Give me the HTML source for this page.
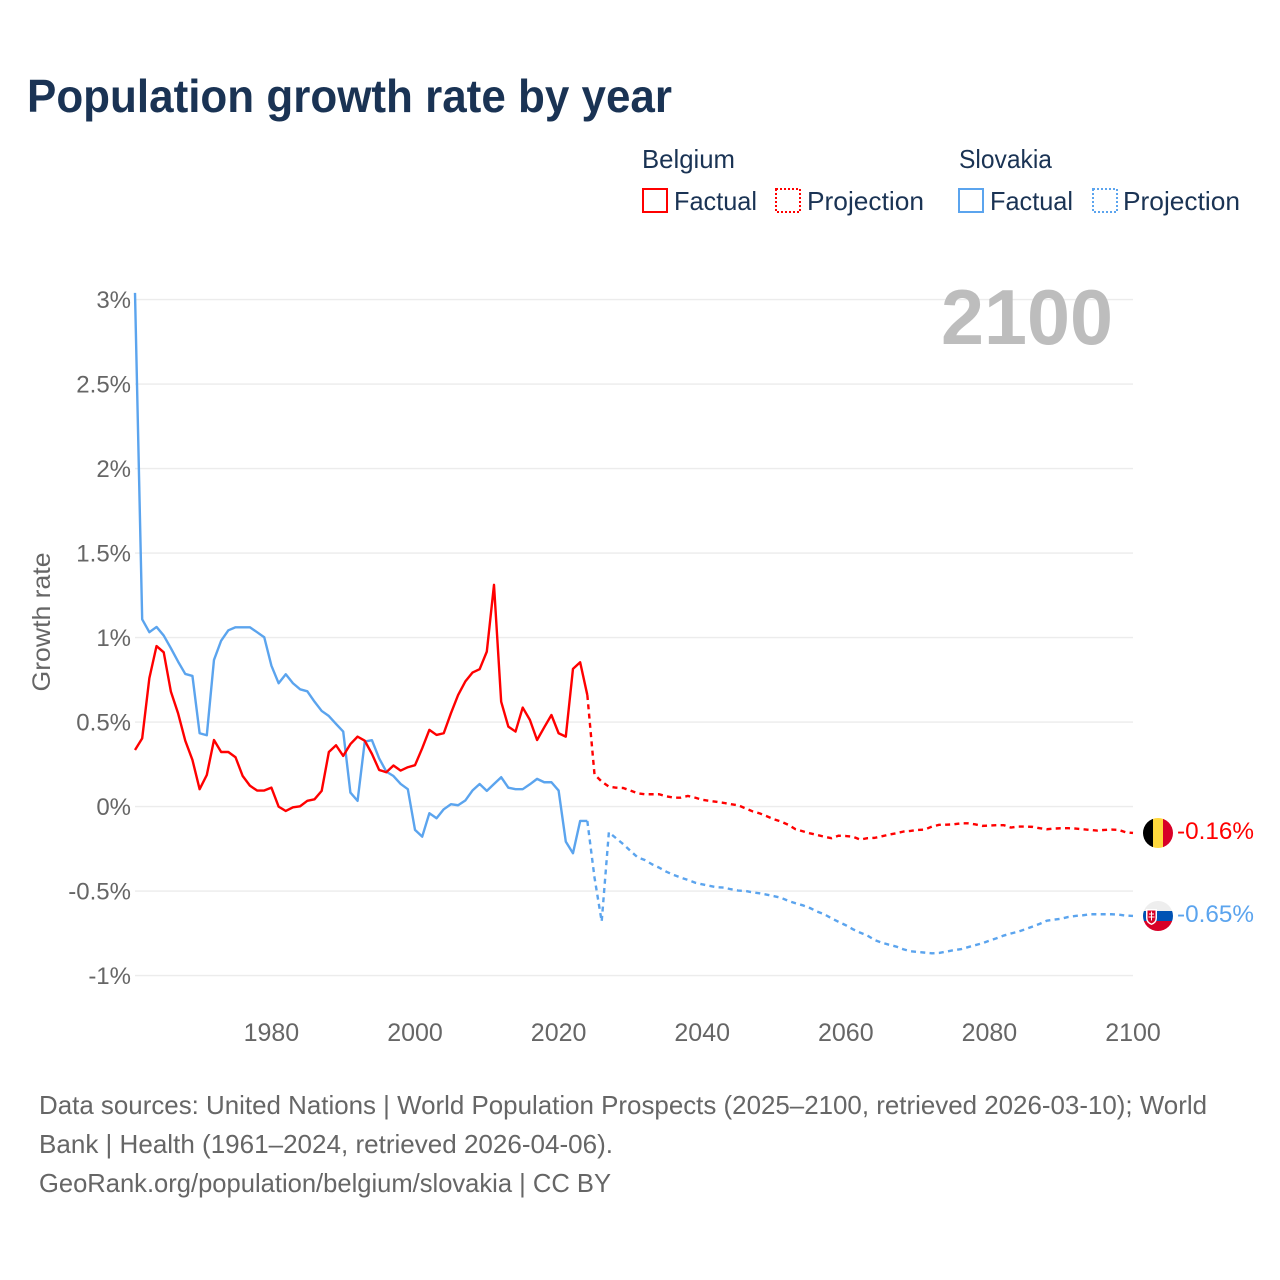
<!DOCTYPE html>
<html lang="en">
<head>
<meta charset="utf-8">
<title>Population growth rate by year</title>
<style>
html,body{margin:0;padding:0;background:#fff;}
svg{display:block;font-family:"Liberation Sans",sans-serif;}
</style>
</head>
<body>
<svg id="chart" width="1280" height="1280" viewBox="0 0 1280 1280" xmlns="http://www.w3.org/2000/svg">
  <defs>
    <clipPath id="flag-clip-be"><circle cx="1158" cy="833" r="15"/></clipPath>
    <clipPath id="flag-clip-sk"><circle cx="1158" cy="916" r="15"/></clipPath>
  </defs>
  <rect x="0" y="0" width="1280" height="1280" fill="#fff"/>
  <text x="27" y="112" font-size="46" font-weight="700" fill="#1a3354" textLength="645" lengthAdjust="spacingAndGlyphs">Population growth rate by year</text>

  <g font-size="26" fill="#1a3354">
    <text x="642" y="168" textLength="93" lengthAdjust="spacingAndGlyphs">Belgium</text>
    <rect x="643" y="189" width="24" height="23" fill="none" stroke="#ff0000" stroke-width="2"/>
    <text x="674" y="210" textLength="83" lengthAdjust="spacingAndGlyphs">Factual</text>
    <rect x="776" y="189" width="24" height="23" fill="none" stroke="#ff0000" stroke-width="2" stroke-dasharray="2 2"/>
    <text x="807" y="210" textLength="117" lengthAdjust="spacingAndGlyphs">Projection</text>
    <text x="959" y="168" textLength="93" lengthAdjust="spacingAndGlyphs">Slovakia</text>
    <rect x="959" y="189" width="24" height="23" fill="none" stroke="#5ba4ee" stroke-width="2"/>
    <text x="990" y="210" textLength="83" lengthAdjust="spacingAndGlyphs">Factual</text>
    <rect x="1093" y="189" width="24" height="23" fill="none" stroke="#5ba4ee" stroke-width="2" stroke-dasharray="2 2"/>
    <text x="1123" y="210" textLength="117" lengthAdjust="spacingAndGlyphs">Projection</text>
  </g>

  <g id="grid"></g>
  <g id="y-ticks"></g>
  <g id="x-ticks"></g>
  <text transform="translate(50,622) rotate(-90)" text-anchor="middle" font-size="25" fill="#666" textLength="139" lengthAdjust="spacingAndGlyphs">Growth rate</text>
  <text x="1113" y="344" text-anchor="end" font-size="78" font-weight="700" fill="#bdbdbd" textLength="172" lengthAdjust="spacingAndGlyphs">2100</text>
  <g id="series"></g>

  <g clip-path="url(#flag-clip-be)">
    <rect x="1143" y="818" width="10" height="30" fill="#000"/>
    <rect x="1153" y="818" width="10" height="30" fill="#ffd83d"/>
    <rect x="1163" y="818" width="10" height="30" fill="#d80027"/>
  </g>
  <g clip-path="url(#flag-clip-sk)">
    <rect x="1143" y="901" width="30" height="10" fill="#eeeeee"/>
    <rect x="1143" y="911" width="30" height="10" fill="#0052b4"/>
    <rect x="1143" y="921" width="30" height="10" fill="#d80027"/>
    <path d="M1146 909h11v9q0 5-5.500 7q-5.500-2-5.500-7z" fill="#fff"/>
    <path d="M1147.500 910.500h8v7.500q0 4-4 5.500q-4-1.500-4-5.500z" fill="#d80027"/>
    <path d="M1151 911.500h1v2h2v1h-2v2h2.500v1h-2.500v3h-1v-3h-2.500v-1h2.500v-2h-2v-1h2z" fill="#fff"/>
  </g>
  <g id="end-labels"></g>

  <g font-size="26" fill="#666">
    <text x="39" y="1114" textLength="1168" lengthAdjust="spacingAndGlyphs">Data sources: United Nations | World Population Prospects (2025–2100, retrieved 2026-03-10); World</text>
    <text x="39" y="1153" textLength="574" lengthAdjust="spacingAndGlyphs">Bank | Health (1961–2024, retrieved 2026-04-06).</text>
    <text x="39" y="1192" textLength="572" lengthAdjust="spacingAndGlyphs">GeoRank.org/population/belgium/slovakia | CC BY</text>
  </g>
</svg>
<script>
const firstYear = 1961;
const lastYear = 2100;
const yTickValues = [3, 2.5, 2, 1.5, 1, 0.5, 0, -0.5, -1];
const yTickLabels = ["3%", "2.5%", "2%", "1.5%", "1%", "0.5%", "0%", "-0.5%", "-1%"];
const xTickValues = [1980, 2000, 2020, 2040, 2060, 2080, 2100];
const xTickLabels = ["1980", "2000", "2020", "2040", "2060", "2080", "2100"];

// Annual values from 1961 through 2024
const belgiumFactual = [
  .335,.404,.76,.95,.913,.68,.552,.39,.276,.103,.187,.394,.323,.323,.292,.181,
  .124,.095,.095,.112,0,-.026,-.004,.002,.034,.043,.093,.323,.363,.30,.37,.414,
  .39,.312,.217,.203,.243,.213,.233,.245,.345,.454,.424,.434,.552,.66,.74,.793,
  .813,.917,1.312,.621,.473,.444,.586,.513,.394,.469,.542,.434,.414,.815,.854,.66
];
const slovakiaFactual = [
  3.04,1.108,1.032,1.063,1.012,.937,.858,.785,.773,.434,.422,.868,.982,1.043,1.061,1.061,
  1.061,1.032,1.002,.834,.73,.783,.73,.694,.682,.621,.566,.536,.489,.444,.083,.034,
  .385,.393,.286,.207,.181,.134,.103,-.138,-.178,-.039,-.069,-.016,.014,.008,.036,.095,
  .134,.093,.134,.174,.112,.103,.103,.132,.164,.144,.144,.095,-.207,-.276,-.085,-.085
];
// Annual values from 2025 through 2100
const belgiumProjection = [
  .19,.148,.118,.112,.11,.095,
  .079,.073,.073,.073,.061,.053,.053,.063,.053,.04,
  .034,.028,.022,.014,.008,-.01,-.028,-.04,-.057,-.075,
  -.089,-.108,-.134,-.146,-.158,-.168,-.178,-.187,-.172,-.174,
  -.178,-.195,-.187,-.185,-.176,-.166,-.158,-.148,-.144,-.138,
  -.136,-.118,-.108,-.107,-.105,-.099,-.099,-.105,-.114,-.112,
  -.11,-.11,-.124,-.118,-.118,-.12,-.128,-.134,-.13,-.128,
  -.128,-.13,-.134,-.138,-.142,-.138,-.136,-.138,-.152,-.156
];
const slovakiaProjection = [
  -.42,-.68,-.152,-.187,-.222,-.262,
  -.30,-.316,-.341,-.361,-.385,-.404,-.42,-.434,-.45,-.46,
  -.469,-.477,-.479,-.489,-.497,-.499,-.507,-.513,-.521,-.53,
  -.54,-.558,-.572,-.584,-.60,-.621,-.637,-.661,-.682,-.702,
  -.726,-.746,-.763,-.789,-.805,-.817,-.828,-.844,-.856,-.86,
  -.864,-.868,-.866,-.858,-.85,-.844,-.832,-.82,-.809,-.793,
  -.779,-.763,-.751,-.74,-.726,-.71,-.694,-.675,-.669,-.663,
  -.653,-.647,-.643,-.637,-.637,-.637,-.637,-.639,-.645,-.647
];
const endLabelBelgium = "-0.16%";
const endLabelSlovakia = "-0.65%";

const SVG_NS = "http://www.w3.org/2000/svg";
function xScale(year) { return 135 + (year - firstYear) * (1133 - 135) / (lastYear - firstYear); }
function yScale(value) { return 806.6 - value * 169; }
function make(tag, parent, attrs, text) {
  const el = document.createElementNS(SVG_NS, tag);
  for (const k in attrs) el.setAttribute(k, attrs[k]);
  if (text !== undefined) el.textContent = text;
  parent.appendChild(el);
  return el;
}
function pathFor(values, startYear, prefix) {
  const pts = prefix.slice();
  values.forEach(function (v, i) { pts.push([startYear + i, v]); });
  return pts.map(function (p, i) {
    return (i ? "L" : "M") + xScale(p[0]).toFixed(2) + " " + yScale(p[1]).toFixed(2);
  }).join("");
}

const gridGroup = document.getElementById("grid");
const yTickGroup = document.getElementById("y-ticks");
yTickValues.forEach(function (v, i) {
  const line = make("line", gridGroup, { x1: 135, x2: 1133, y1: yScale(v), y2: yScale(v), stroke: "#ececec", "stroke-width": 1.4 });
  
  
  const label = make("text", yTickGroup, { x: 131, y: yScale(v) + 8.5, "text-anchor": "end", "font-size": 24, fill: "#666" }, yTickLabels[i]);
  
  
});

const xTickGroup = document.getElementById("x-ticks");
xTickValues.forEach(function (year, i) {
  const label = make("text", xTickGroup, { x: xScale(year), y: 1041, "text-anchor": "middle", "font-size": 25, fill: "#666" }, xTickLabels[i]);
  
  
});

const seriesGroup = document.getElementById("series");
const RED = "#ff0000";
const BLUE = "#5ba4ee";
const DASH = "5 4.3";
const lineStyle = { fill: "none", "stroke-width": 2.4, "stroke-linejoin": "round" };

const blueFactual = make("path", seriesGroup, Object.assign({ d: pathFor(slovakiaFactual, firstYear, []), stroke: BLUE }, lineStyle));


const redFactual = make("path", seriesGroup, Object.assign({ d: pathFor(belgiumFactual, firstYear, []), stroke: RED }, lineStyle));


const factualEnd = firstYear + belgiumFactual.length - 1;
const blueProjection = make("path", seriesGroup, Object.assign({ d: pathFor(slovakiaProjection, factualEnd + 1, [[factualEnd, slovakiaFactual[slovakiaFactual.length - 1]]]), stroke: BLUE, "stroke-dasharray": DASH }, lineStyle));


const redProjection = make("path", seriesGroup, Object.assign({ d: pathFor(belgiumProjection, factualEnd + 1, [[factualEnd, belgiumFactual[belgiumFactual.length - 1]]]), stroke: RED, "stroke-dasharray": DASH }, lineStyle));



const endGroup = document.getElementById("end-labels");
const beLabel = make("text", endGroup, { x: 1177, y: 839, "font-size": 24, fill: RED, textLength: 77, lengthAdjust: "spacingAndGlyphs" }, endLabelBelgium);


const skLabel = make("text", endGroup, { x: 1177, y: 922, "font-size": 24, fill: BLUE, textLength: 77, lengthAdjust: "spacingAndGlyphs" }, endLabelSlovakia);


</script>
</body>
</html>
